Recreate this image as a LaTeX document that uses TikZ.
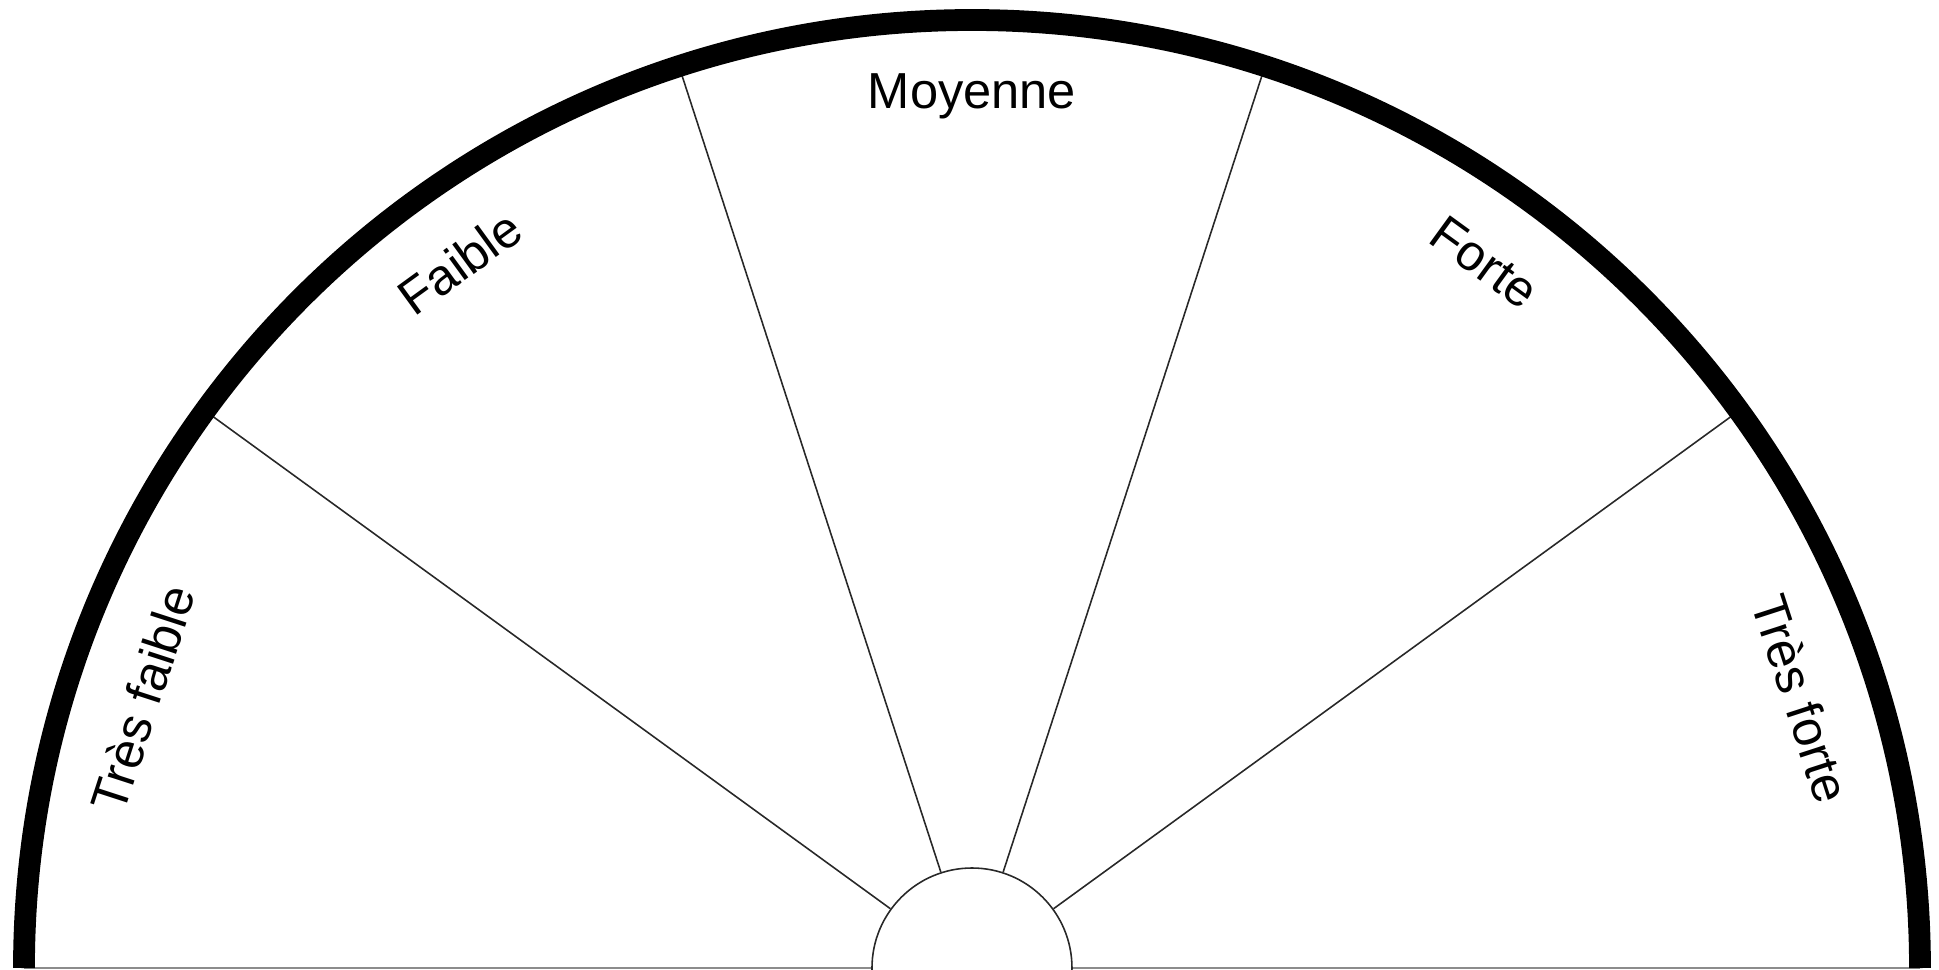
\documentclass[tikz,border=0pt]{standalone}
\usepackage{fontspec}
\setmainfont{Liberation Sans}
\usepackage{xcolor}
\usetikzlibrary{positioning}
\definecolor{kgray}{RGB}{140,140,140}
\definecolor{kline}{RGB}{40,40,40}

\begin{document}
\begin{tikzpicture}[font=\fontsize{14.4}{17}\selectfont]
\tikzstyle{rim}=[line width=6.2pt, black]
\tikzstyle{spoke}=[line width=0.45pt, kline]
\tikzstyle{base}=[line width=0.45pt, kgray]
\tikzstyle{grade}=[inner sep=0pt, align=center]

\useasboundingbox (-9.72,-0.01) rectangle (9.67,9.68);

% hub and rim points
\node[circle, draw=kline, line width=0.45pt, minimum size=2cm, inner sep=0pt] (hub) at (0,0) {};
\coordinate (rimL) at (180:9.48);
\coordinate (rimR) at (0:9.48);
\coordinate (r1) at (36:9.48);
\coordinate (r2) at (72:9.48);
\coordinate (r3) at (108:9.48);
\coordinate (r4) at (144:9.48);

\draw[base] (rimL) -- (hub.west);
\draw[base] (hub.east) -- (rimR);
\draw[spoke] (hub.36) -- (r1);
\draw[spoke] (hub.72) -- (r2);
\draw[spoke] (hub.108) -- (r3);
\draw[spoke] (hub.144) -- (r4);

\draw[rim] (rimR) arc[start angle=0, end angle=180, radius=9.48cm];

% labels
\node[grade, rotate=72] (vweak) at (162:8.72) {Très faible};
\node[grade, rotate=36] (weak) at (126:8.72) {Faible};
\node[grade] (mid) at (90:8.72) {Moyenne};
\node[grade, rotate=-36] (strong) at (54:8.72) {Forte};
\node[grade, rotate=-72] (vstrong) at (18:8.72) {Très forte};
\end{tikzpicture}
\end{document}
